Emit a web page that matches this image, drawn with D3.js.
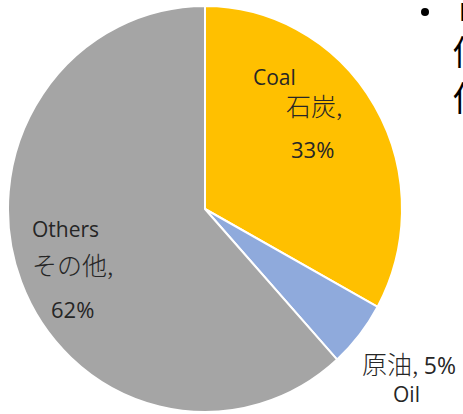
<!DOCTYPE html>
<html>
<head>
<meta charset="utf-8">
<script src="https://cdn.jsdelivr.net/npm/d3@7"></script>
<style>
  html, body { margin: 0; padding: 0; background: #fff; overflow: hidden; }
  text { font-family: "Noto Sans CJK JP", "Noto Sans", sans-serif; fill: #262626; }
  text.latin { font-family: "Open Sans", "Noto Sans", sans-serif; }
  text.jp { font-weight: 300; }
</style>
</head>
<body>
<div id="chart-container"></div>
<script>
// share of each source (%)
const categories = ['石炭', '原油', 'その他']
const englishNames = ['Coal', 'Oil', 'Others']
const shares = [33.0, 5.3, 61.7]
const colors = ['#FFC000', '#8FAADC', '#A5A5A5']

const width = 463, height = 414
const cx = 205, cy = 209
const radius = 197
const stretchY = 203 / 197   // the picture is slightly taller than wide

const data = categories.map((c, i) => ({ name: c, en: englishNames[i], value: shares[i], color: colors[i] }))
const total = d3.sum(shares)
const pct = d3.format('.0%')

const svg = d3.select('#chart-container')
    .append('svg')
    .attr('width', width)
    .attr('height', height)

const pie = d3.pie()
    .sort(null)
    .value(d => d.value)

const arc = d3.arc()
    .innerRadius(0)
    .outerRadius(radius)

const g = svg.append('g')
    .attr('transform', `translate(${cx},${cy}) scale(1,${stretchY})`)

g.selectAll('path')
    .data(pie(data))
    .join('path')
    .attr('d', arc)
    .attr('fill', d => d.data.color)
    .attr('stroke', '#fff')
    .attr('stroke-width', 2)

// data labels, placed like the hand-moved boxes in the original
const labels = svg.append('g')
const lab = (x, y, txt, size, cls) => labels.append('text')
    .attr('class', cls)
    .attr('x', cx + x)
    .attr('y', cy + y)
    .style('font-size', size + 'px')
    .text(txt)

const [coal, oil, others] = data
lab(48, -124, coal.en, 21, 'latin')
lab(81, -93, coal.name + ',', 25, 'jp')
lab(86, -51, pct(coal.value / total), 22, 'latin')

lab(-173, 28, others.en, 21, 'latin')
lab(-173, 66, others.name + ',', 25, 'jp')
lab(-154, 109, pct(others.value / total), 22, 'latin')

const oilLab = lab(157, 165, '', 25, 'jp')
oilLab.append('tspan').text(oil.name + ', ')
oilLab.append('tspan')
    .style('font-family', '"Open Sans", sans-serif')
    .style('font-weight', 400)
    .style('font-size', '23px')
    .text(pct(oil.value / total))
lab(188, 193, oil.en, 21, 'latin')

// slide text cut off at the right edge
svg.append('circle')
    .attr('cx', 425)
    .attr('cy', 12)
    .attr('r', 4)
    .attr('fill', '#000')
svg.append('text')
    .attr('x', 459)
    .attr('y', 21)
    .style('font-size', '24px')
    .style('fill', '#000')
    .text('I')
svg.append('text')
    .attr('x', 453)
    .attr('y', 65)
    .style('font-size', '34px')
    .style('fill', '#000')
    .text('価')
svg.append('text')
    .attr('x', 453)
    .attr('y', 111)
    .style('font-size', '34px')
    .style('fill', '#000')
    .text('供')
</script>
</body>
</html>
